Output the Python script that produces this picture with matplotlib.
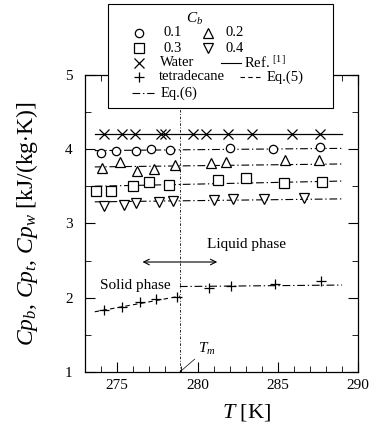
import matplotlib
matplotlib.use("Agg")
import matplotlib.pyplot as plt
from matplotlib.lines import Line2D
from matplotlib.patches import Rectangle
from matplotlib.ticker import MultipleLocator

plt.rcParams['font.family'] = ['Liberation Serif', 'DejaVu Serif']
plt.rcParams['mathtext.fontset'] = 'custom'
plt.rcParams['mathtext.rm'] = 'Liberation Serif'
plt.rcParams['mathtext.it'] = 'Liberation Serif:italic'

T_water = [274.2, 275.3, 276.1, 277.7, 278.0, 279.7, 280.5, 281.9, 283.4, 285.9, 287.6]
cp_water = [4.21, 4.21, 4.21, 4.21, 4.21, 4.21, 4.21, 4.21, 4.21, 4.21, 4.21]

T_b01 = [274.0, 274.9, 276.15, 277.1, 278.3, 282.0, 284.7, 287.6]
cp_b01 = [3.95, 3.98, 3.98, 4.00, 3.99, 4.01, 4.00, 4.03]

T_b02 = [274.05, 275.16, 276.25, 277.28, 278.6, 280.86, 281.8, 285.45, 287.55]
cp_b02 = [3.74, 3.82, 3.71, 3.73, 3.78, 3.81, 3.83, 3.85, 3.85]

T_b03 = [273.7, 274.6, 276.0, 277.0, 278.25, 281.3, 283.0, 285.4, 287.75]
cp_b03 = [3.43, 3.44, 3.50, 3.56, 3.52, 3.58, 3.61, 3.55, 3.56]

T_b04 = [274.2, 275.4, 276.15, 277.6, 278.5, 281.0, 282.2, 284.15, 286.6]
cp_b04 = [3.24, 3.25, 3.28, 3.29, 3.30, 3.32, 3.33, 3.33, 3.34]

T_tet = [274.2, 275.3, 276.4, 277.4, 278.7, 280.7, 282.1, 284.8, 287.7]
cp_tet = [1.83, 1.88, 1.94, 1.98, 2.01, 2.13, 2.16, 2.18, 2.22]

# calculated curves
T_line = [273.6, 289.0]
ref_water = [4.21, 4.21]
eq6_b01 = [3.98, 4.01]
eq6_b02 = [3.76, 3.80]
eq6_b03 = [3.50, 3.57]
eq6_b04 = [3.29, 3.33]
T_solid = [273.6, 278.9]
eq5_solid = [1.81, 2.02]
T_liquid = [278.9, 289.0]
eq6_liquid = [2.15, 2.17]

T_m = 278.9

W, H = 375, 430
dashdot = (0, (7, 2.5, 1.2, 2.5))
dashed = (0, (4, 3))
mk = dict(color='black', markerfacecolor='white', markeredgecolor='black',
          markeredgewidth=0.9, linestyle='none')

fig = plt.figure(figsize=(W / 100, H / 100), dpi=100)
ax = fig.add_axes([0.227, 0.135, 0.728, 0.691])

# lines
ax.plot(T_line, ref_water, '-', color='black', lw=0.9)
for vals in [eq6_b01, eq6_b02, eq6_b03, eq6_b04]:
    ax.plot(T_line, vals, color='black', lw=0.8, linestyle=dashdot)
ax.plot(T_solid, eq5_solid, color='black', lw=0.8, linestyle=dashed)
ax.plot(T_liquid, eq6_liquid, color='black', lw=0.8, linestyle=dashdot)
ax.axvline(T_m, color='black', lw=0.6, linestyle=(0, (3, 2, 1, 2)), zorder=1)

# markers
ax.plot(T_water, cp_water, marker='x', markersize=7, **mk)
ax.plot(T_b01, cp_b01, marker='o', markersize=6, **mk)
ax.plot(T_b02, cp_b02, marker='^', markersize=7, **mk)
ax.plot(T_b03, cp_b03, marker='s', markersize=6.5, **mk)
ax.plot(T_b04, cp_b04, marker='v', markersize=7, **mk)
ax.plot(T_tet, cp_tet, marker='+', markersize=7, **mk)

# annotations
ax.annotate('', xy=(276.4, 2.48), xytext=(281.4, 2.48),
            arrowprops=dict(arrowstyle='<->', lw=0.8, color='black'))
ax.text(280.6, 2.72, 'Liquid phase', fontsize=11, va='center', ha='left')
ax.text(273.9, 2.17, 'Solid phase', fontsize=11, va='center', ha='left')
ax.annotate('$T_m$', xy=(T_m, 1.0), xytext=(280.0, 1.2), fontsize=11,
            ha='left', va='bottom',
            arrowprops=dict(arrowstyle='-', lw=0.5, color='black',
                            shrinkA=0, shrinkB=0))

ax.set_xlim(273, 290)
ax.set_ylim(1, 5)
ax.xaxis.set_major_locator(MultipleLocator(5))
ax.xaxis.set_minor_locator(MultipleLocator(1))
ax.yaxis.set_major_locator(MultipleLocator(1))
ax.yaxis.set_minor_locator(MultipleLocator(0.5))
ax.tick_params(which='both', direction='in', top=True, right=True, labelsize=11)
ax.tick_params(which='major', length=7, width=0.8)
ax.tick_params(which='minor', length=4, width=0.6)
ax.tick_params(axis='y', pad=9)
ax.tick_params(axis='x', pad=5)
for s in ax.spines.values():
    s.set_linewidth(0.9)

ax.set_xlabel('$T$ [K]', fontsize=16)
ax.xaxis.set_label_coords(0.59, -0.1)
ax.set_ylabel('$Cp_b$, $Cp_t$, $Cp_w$ [kJ/(kg$\\cdot$K)]', fontsize=17)
ax.yaxis.set_label_coords(-0.165, 0.5)


# hand-placed legend box (positions in pixels from the top-left corner)
def fp(x, y):
    return x / W, 1 - y / H


box_x0, box_y0, box_x1, box_y1 = 108, 4, 333, 108
fig.add_artist(Rectangle(fp(box_x0, box_y1), (box_x1 - box_x0) / W,
                         (box_y1 - box_y0) / H, transform=fig.transFigure,
                         facecolor='white', edgecolor='black', lw=0.8, zorder=10))
fig.text(*fp(195, 19), '$C_b$', fontsize=11, ha='center', va='center', zorder=11)

marker_items = [('o', 6, 139, 163, 33, '0.1'), ('^', 7, 208, 225, 33, '0.2'),
                ('s', 6.5, 139, 163, 48, '0.3'), ('v', 7, 208, 225, 48, '0.4'),
                ('x', 7, 139, 160, 63, 'Water'),
                ('+', 7, 139, 159, 77, 'tetradecane')]
for m, ms, hx, tx, ry, lab in marker_items:
    x, y = fp(hx, ry)
    fig.add_artist(Line2D([x], [y], marker=m, markersize=ms,
                          transform=fig.transFigure, zorder=11, **mk))
    fig.text(*fp(tx, ry), lab, fontsize=10.5, ha='left', va='center', zorder=11)

line_items = [('-', 221, 241, 244, 63, 'Ref. $^{[1]}$'),
              (dashed, 240, 261, 267, 77, 'Eq.(5)'),
              (dashdot, 132, 154, 161, 93, 'Eq.(6)')]
for ls, x0, x1, tx, ry, lab in line_items:
    (xa, y), (xb, _) = fp(x0, ry), fp(x1, ry)
    fig.add_artist(Line2D([xa, xb], [y, y], color='black', lw=0.8,
                          linestyle=ls, transform=fig.transFigure, zorder=11))
    fig.text(*fp(tx, ry), lab, fontsize=10.5, ha='left', va='center', zorder=11)

fig.savefig('out.png', dpi=100)
